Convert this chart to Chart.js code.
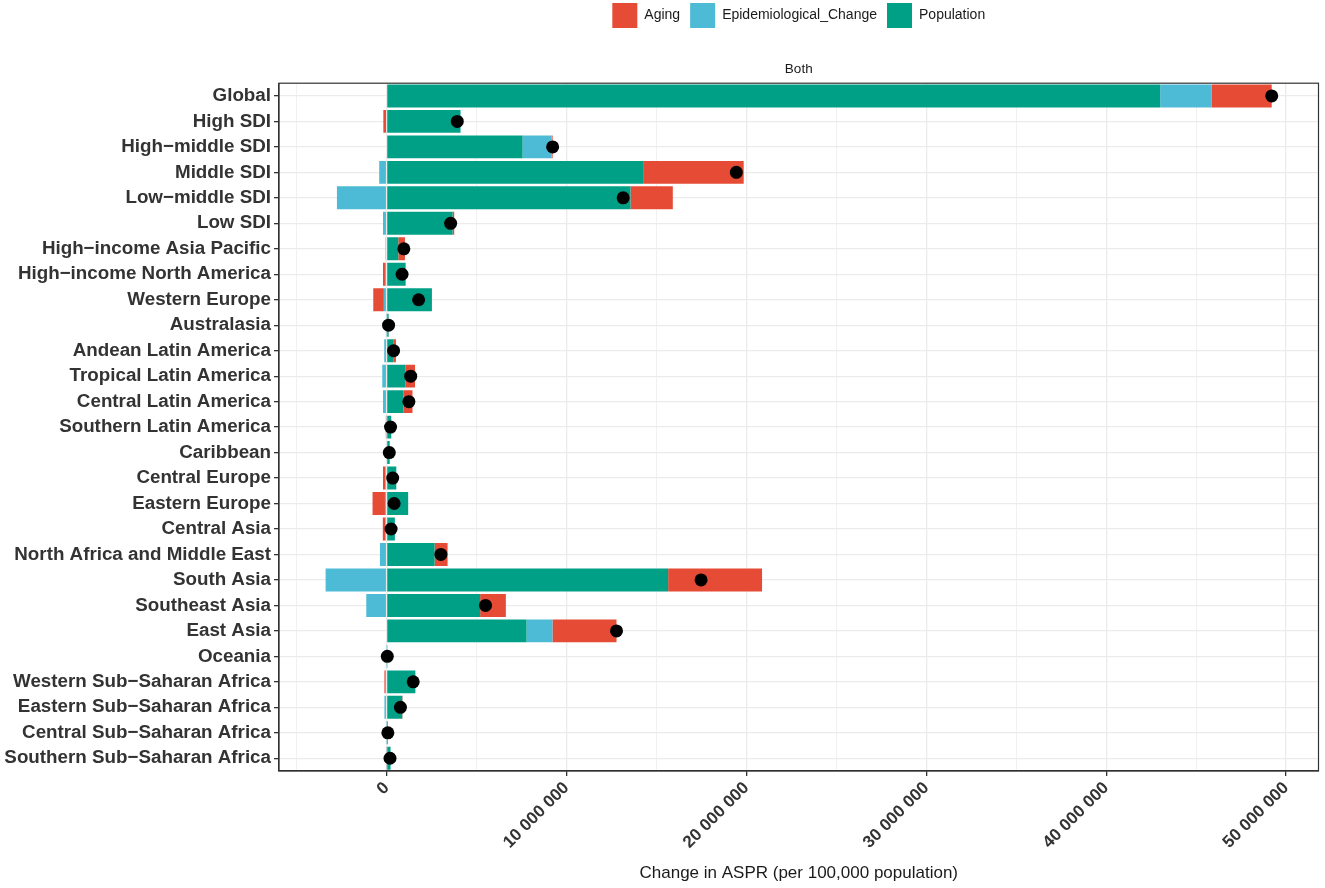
<!DOCTYPE html>
<html>
<head>
<meta charset="utf-8">
<script src="https://cdn.jsdelivr.net/npm/chart.js@4.4.1/dist/chart.umd.min.js"></script>
<style>
  html, body { margin: 0; padding: 0; background: #fff; }
  #wrap { width: 1325px; height: 888px; }
</style>
</head>
<body>
<div id="wrap"><canvas id="chart"></canvas></div>
<script>
const regions = [
  "Global", "High SDI", "High−middle SDI", "Middle SDI", "Low−middle SDI", "Low SDI",
  "High−income Asia Pacific", "High−income North America", "Western Europe", "Australasia",
  "Andean Latin America", "Tropical Latin America", "Central Latin America", "Southern Latin America",
  "Caribbean", "Central Europe", "Eastern Europe", "Central Asia", "North Africa and Middle East",
  "South Asia", "Southeast Asia", "East Asia", "Oceania", "Western Sub−Saharan Africa",
  "Eastern Sub−Saharan Africa", "Central Sub−Saharan Africa", "Southern Sub−Saharan Africa"
];

const population = [
  43000000, 4110000, 7560000, 14260000, 13560000, 3670000,
  650000, 1060000, 2520000, 110000,
  370000, 1040000, 940000, 260000,
  170000, 540000, 1200000, 460000, 2670000,
  15650000, 5200000, 7780000, 50000, 1600000,
  870000, 70000, 220000
];

const epidemiological = [
  2870000, -30000, 1610000, -410000, -2760000, -200000,
  -60000, -90000, -150000, -10000,
  -130000, -240000, -200000, -20000,
  -30000, -80000, -90000, -70000, -370000,
  -3390000, -1130000, 1440000, -10000, -50000,
  -120000, -10000, -20000
];

const aging = [
  3330000, -150000, 60000, 5590000, 2350000, 90000,
  370000, -110000, -590000, 10000,
  150000, 540000, 500000, -20000,
  10000, -120000, -690000, -140000, 720000,
  5220000, 1430000, 3560000, 0, -70000,
  20000, 10000, -10000
];

const xTicks = [-5000000, 0, 5000000, 10000000, 15000000, 20000000, 25000000, 30000000, 35000000, 40000000, 45000000, 50000000];

// overall change = sum of the three components
const totals = regions.map((_, i) => population[i] + epidemiological[i] + aging[i]);

const fmt = (v) => String(v).replace(/\B(?=(\d{3})+(?!\d))/g, " ");
const isMajor = (v) => v % 10000000 === 0 && v >= 0;

const panelFrame = {
  id: "panelFrame",
  afterDatasetsDraw(chart) {
    const { ctx, chartArea: a } = chart;
    ctx.save();
    ctx.strokeStyle = "#333333";
    ctx.lineWidth = 1.2;
    ctx.strokeRect(a.left, a.top, a.right - a.left, a.bottom - a.top);
    ctx.restore();
  }
};

new Chart(document.getElementById("chart"), {
  type: "bar",
  data: {
    labels: regions,
    datasets: [
      {
        type: "line",
        label: "Total",
        data: totals,
        indexAxis: "y",
        stack: "dots",
        order: -1,
        showLine: false,
        pointRadius: 6.5,
        pointHoverRadius: 6.5,
        pointBackgroundColor: "#000000",
        pointBorderWidth: 0,
        borderColor: "#000000"
      },
      { label: "Population", data: population, backgroundColor: "#00A087", borderWidth: 0 },
      { label: "Epidemiological_Change", data: epidemiological, backgroundColor: "#4DBBD5", borderWidth: 0 },
      { label: "Aging", data: aging, backgroundColor: "#E64B35", borderWidth: 0 }
    ]
  },
  options: {
    indexAxis: "y",
    responsive: true,
    maintainAspectRatio: false,
    animation: false,
    datasets: { bar: { barPercentage: 0.9, categoryPercentage: 1 } },
    layout: { padding: { top: -7, right: 6, bottom: 0, left: 0 } },
    plugins: {
      tooltip: { enabled: false },
      legend: {
        position: "top",
        fullSize: false,
        labels: {
          boxWidth: 25,
          boxHeight: 25,
          padding: 10,
          color: "#1a1a1a",
          font: { family: "'Liberation Sans', Arial, sans-serif", size: 14 },
          filter: (item) => item.text !== "Total",
          sort: (a, b) => b.datasetIndex - a.datasetIndex
        }
      },
      title: {
        display: true,
        text: "Both",
        position: "top",
        fullSize: false,
        weight: 500,
        color: "#1a1a1a",
        font: { family: "'Liberation Sans', Arial, sans-serif", size: 13.5, weight: "normal" },
        padding: { top: 23, bottom: 6 }
      }
    },
    scales: {
      x: {
        type: "linear",
        stacked: true,
        min: -5980000,
        max: 51800000,
        afterBuildTicks: (scale) => { scale.ticks = xTicks.map((v) => ({ value: v })); },
        afterFit: (scale) => { scale.height = 117; },
        border: { color: "#333333", width: 1.2 },
        grid: {
          color: "#EBEBEB",
          lineWidth: (c) => (c.tick && isMajor(c.tick.value) ? 1.3 : 0.7),
          tickColor: (c) => (c.tick && isMajor(c.tick.value) ? "#333333" : "rgba(0,0,0,0)"),
          tickLength: 5
        },
        ticks: {
          autoSkip: false,
          minRotation: 45,
          maxRotation: 45,
          padding: 2,
          color: "#333333",
          font: { family: "'Liberation Sans', Arial, sans-serif", size: 17, weight: "bold" },
          callback: (v) => (isMajor(v) ? fmt(v) : "")
        },
        title: {
          display: true,
          text: "Change in ASPR (per 100,000 population)",
          color: "#1a1a1a",
          font: { family: "'Liberation Sans', Arial, sans-serif", size: 17 },
          padding: { top: 4, bottom: 4 }
        }
      },
      y: {
        type: "category",
        stacked: true,
        offset: true,
        afterFit: (scale) => { scale.width = 279; },
        border: { color: "#333333", width: 1.2 },
        grid: {
          offset: false,
          color: "#EBEBEB",
          lineWidth: 1.3,
          tickColor: "#333333",
          tickLength: 5
        },
        ticks: {
          autoSkip: false,
          padding: 3,
          color: "#333333",
          font: { family: "'Liberation Sans', Arial, sans-serif", size: 18.8, weight: "bold" }
        }
      }
    }
  },
  plugins: [panelFrame]
});
</script>
</body>
</html>
